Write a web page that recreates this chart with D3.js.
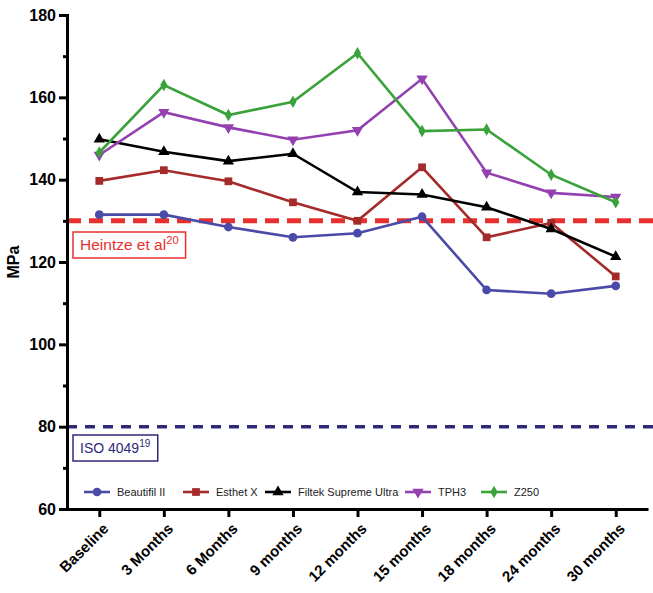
<!DOCTYPE html>
<html><head><meta charset="utf-8">
<script src="https://cdn.jsdelivr.net/npm/d3@7"></script>
<style>body{margin:0;background:#fff}svg{display:block}text{font-family:Arial,"Liberation Sans",sans-serif}</style>
</head><body><svg id="c" width="653" height="593"></svg>
<script>
const categories = ["Baseline","3 Months","6 Months","9 months","12 months","15 months","18 months","24 months","30 months"];
const beautifil = [131.5,131.5,128.5,126,127,131,113.2,112.3,114.2];
const esthetX = [139.7,142.3,139.6,134.5,130,143,126,129.5,116.5];
const filtek = [149.8,146.8,144.5,146.3,137,136.4,133.3,128,121.3];
const tph3 = [146,156.4,152.7,149.7,152,164.5,141.7,136.8,135.8];
const z250 = [146.6,163,155.7,158.9,170.7,151.8,152.2,141.2,134.5];
const seriesNames = ["Beautifil II","Esthet X","Filtek Supreme Ultra","TPH3","Z250"];
const yTicks = [60,80,100,120,140,160,180];
const refLines = [{v:130,label:"Heintze et al",sup:"20"},{v:80,label:"ISO 4049",sup:"19"}];

const series = [
  {name:seriesNames[0], vals:beautifil, color:"#4a4aa8", sym:d3.symbolCircle, size:60},
  {name:seriesNames[1], vals:esthetX, color:"#a52a2a", sym:d3.symbolSquare, size:60},
  {name:seriesNames[2], vals:filtek, color:"#000000", sym:d3.symbolTriangle, size:55, rot:0},
  {name:seriesNames[3], vals:tph3, color:"#9440b0", sym:d3.symbolTriangle, size:55, rot:180},
  {name:seriesNames[4], vals:z250, color:"#3aa23a", sym:d3.symbolDiamond, size:45}
];

const svg = d3.select("#c");
const x = d3.scalePoint().domain(categories).range([67,648]).padding(0.5);
const y = d3.scaleLinear().domain([60,180]).range([509,15]);

// reference lines
const refColors = ["#e8302e","#2e2a78"];
const refDash = [["14,8",5],["10,8",3.5]];
refLines.forEach((r,i)=>{
  svg.append("line").attr("x1",67).attr("x2",653).attr("y1",y(r.v)).attr("y2",y(r.v))
    .attr("stroke",refColors[i]).attr("stroke-width",refDash[i][1]).attr("stroke-dasharray",refDash[i][0]);
});

// reference labels
function refLabel(i, bx, by, bh, fs){
  const r = refLines[i];
  const rect = svg.append("rect").attr("x",bx).attr("y",by).attr("height",bh)
    .attr("fill","#fff").attr("stroke",refColors[i]).attr("stroke-width",1.5);
  const t = svg.append("text").attr("x",bx+7).attr("y",by+bh/2+5).attr("font-size",fs).attr("fill",refColors[i]);
  t.append("tspan").text(r.label);
  t.append("tspan").attr("dy",-6).attr("font-size",fs*0.72).text(r.sup);
  rect.attr("width", t.node().getBBox().width + 14);
}
refLabel(0, 73, 232, 26, 15.5);
refLabel(1, 73, 435, 26, 14);

// lines and markers
const line = d3.line().x((d,i)=>x(categories[i])).y(d=>y(d));
series.forEach(s=>{
  svg.append("path").datum(s.vals).attr("d",line).attr("fill","none")
    .attr("stroke",s.color).attr("stroke-width",2.6);
  svg.selectAll(null).data(s.vals).enter().append("path")
    .attr("d",d3.symbol().type(s.sym).size(s.size))
    .attr("transform",(d,i)=>`translate(${x(categories[i])},${y(d)})${s.rot?" rotate("+s.rot+")":""}`)
    .attr("fill",s.color);
});

// legend
const legX = [97,196,278,418,494];
series.forEach((s,i)=>{
  const g = svg.append("g").attr("transform",`translate(${legX[i]},492)`);
  g.append("line").attr("x1",-13).attr("x2",13).attr("stroke",s.color).attr("stroke-width",2.6);
  g.append("path").attr("d",d3.symbol().type(s.sym).size(s.size)).attr("fill",s.color)
    .attr("transform",s.rot?"rotate("+s.rot+")":null);
  g.append("text").attr("x",20).attr("y",4).attr("font-size",11).attr("fill","#222").text(s.name);
});

// axes
const yAxis = svg.append("g").attr("transform","translate(67,0)")
  .call(d3.axisLeft(y).tickValues(yTicks).tickSize(8).tickPadding(3).tickFormat(d3.format("d")));
svg.append("g").attr("transform","translate(67,0)")
  .call(d3.axisLeft(y).tickValues(d3.range(70,180,20)).tickSize(4).tickFormat(""))
  .call(g=>g.select(".domain").remove());
yAxis.select(".domain").attr("stroke-width",3);
svg.selectAll("g .tick line").attr("stroke-width",3);
yAxis.selectAll("text").attr("font-size",16).attr("font-weight","bold").attr("fill","#000");

const xAxis = svg.append("g").attr("transform","translate(0,509)")
  .call(d3.axisBottom(x).tickSize(8).tickSizeOuter(0));
xAxis.select(".domain").attr("stroke-width",3);
xAxis.selectAll(".tick line").attr("stroke-width",3);
xAxis.selectAll("text").attr("font-size",15).attr("font-weight","bold").attr("fill","#000")
  .attr("text-anchor","end").attr("transform","translate(6,17) rotate(-45)").attr("dy","0.35em").attr("y",0).attr("x",0);

svg.append("text").attr("transform","translate(19,262) rotate(-90)").attr("text-anchor","middle")
  .attr("font-size",16).attr("font-weight","bold").text("MPa");
</script></body></html>
